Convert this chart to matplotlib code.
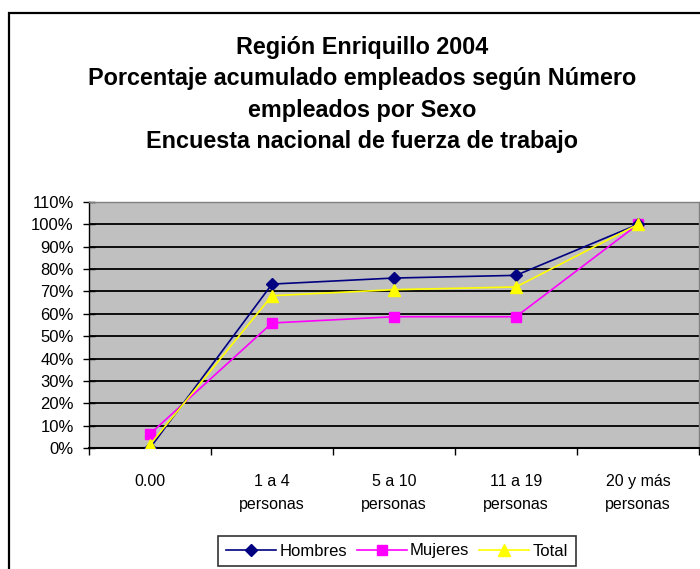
import matplotlib
matplotlib.use("Agg")
import matplotlib.pyplot as plt
from matplotlib.patches import Rectangle
from matplotlib.ticker import FixedLocator, PercentFormatter

plt.rcParams["font.family"] = ["Liberation Sans", "DejaVu Sans"]

# ── Datos ────────────────────────────────────────────────────────────────
categorias = ["0.00", "1 a 4\npersonas", "5 a 10\npersonas", "11 a 19\npersonas", "20 y más\npersonas"]
hombres = [0.0, 73.3, 76.0, 77.2, 100.0]
mujeres = [6.3, 55.9, 58.7, 58.7, 100.0]
total   = [1.5, 68.1, 70.8, 72.0, 100.0]

titulo = ("Región Enriquillo 2004\n"
          "Porcentaje acumulado empleados según Número\n"
          "empleados por Sexo\n"
          "Encuesta nacional de fuerza de trabajo")

W, H = 700, 569
fig = plt.figure(figsize=(W / 100, H / 100), dpi=100)

# marco exterior del gráfico (se sale por la derecha y abajo)
fig.patches.append(Rectangle((9 / W, -0.05), 1.1, 1 - 13 / H + 0.05, transform=fig.transFigure,
                             fill=False, edgecolor="black", linewidth=1.6, zorder=0))

ax = fig.add_axes([89 / W, 1 - 448 / H, 610 / W, 246 / H])
ax.set_facecolor("#C0C0C0")

x = list(range(len(categorias)))
ax.plot(x, hombres, color="#000080", marker="D", markersize=6, linewidth=1.2, label="Hombres", zorder=5)
ax.plot(x, mujeres, color="#FF00FF", marker="s", markersize=7, linewidth=1.2, label="Mujeres", zorder=4)
ax.plot(x, total,   color="#FFFF00", marker="^", markersize=8, linewidth=1.2, label="Total", zorder=6)

ax.set_xlim(-0.5, len(categorias) - 0.5)
ax.set_ylim(0, 110)
ax.yaxis.set_major_locator(FixedLocator(range(0, 111, 10)))
ax.yaxis.set_major_formatter(PercentFormatter(decimals=0))
ax.grid(axis="y", color="black", linewidth=1.3)
ax.set_axisbelow(True)

ax.set_xticks(x)
ax.set_xticklabels(categorias, fontsize=11.5, linespacing=1.65)
ax.xaxis.set_minor_locator(FixedLocator([i - 0.5 for i in range(len(categorias) + 1)]))
ax.tick_params(axis="x", which="major", length=0, pad=19)
ax.tick_params(axis="x", which="minor", length=5, width=1, direction="out")
ax.tick_params(axis="y", length=8, width=1, direction="inout", labelsize=12, pad=7)

for side in ["top", "right"]:
    ax.spines[side].set_color("#808080")
    ax.spines[side].set_linewidth(1)
ax.spines["left"].set_linewidth(1)
ax.spines["bottom"].set_linewidth(1.5)

fig.text(362 / W, 1 - 36 / H, titulo, ha="center", va="top", fontsize=16.8,
         fontweight="bold", linespacing=1.47)

leg = fig.legend(loc="center", bbox_to_anchor=(397 / W, 1 - 551 / H), ncol=3, fontsize=12,
                 frameon=True, fancybox=False, edgecolor="black", handlelength=3,
                 columnspacing=0.6, handletextpad=0.2, borderpad=0.45)
leg.get_frame().set_linewidth(1.2)

fig.savefig("out.png", dpi=100)
